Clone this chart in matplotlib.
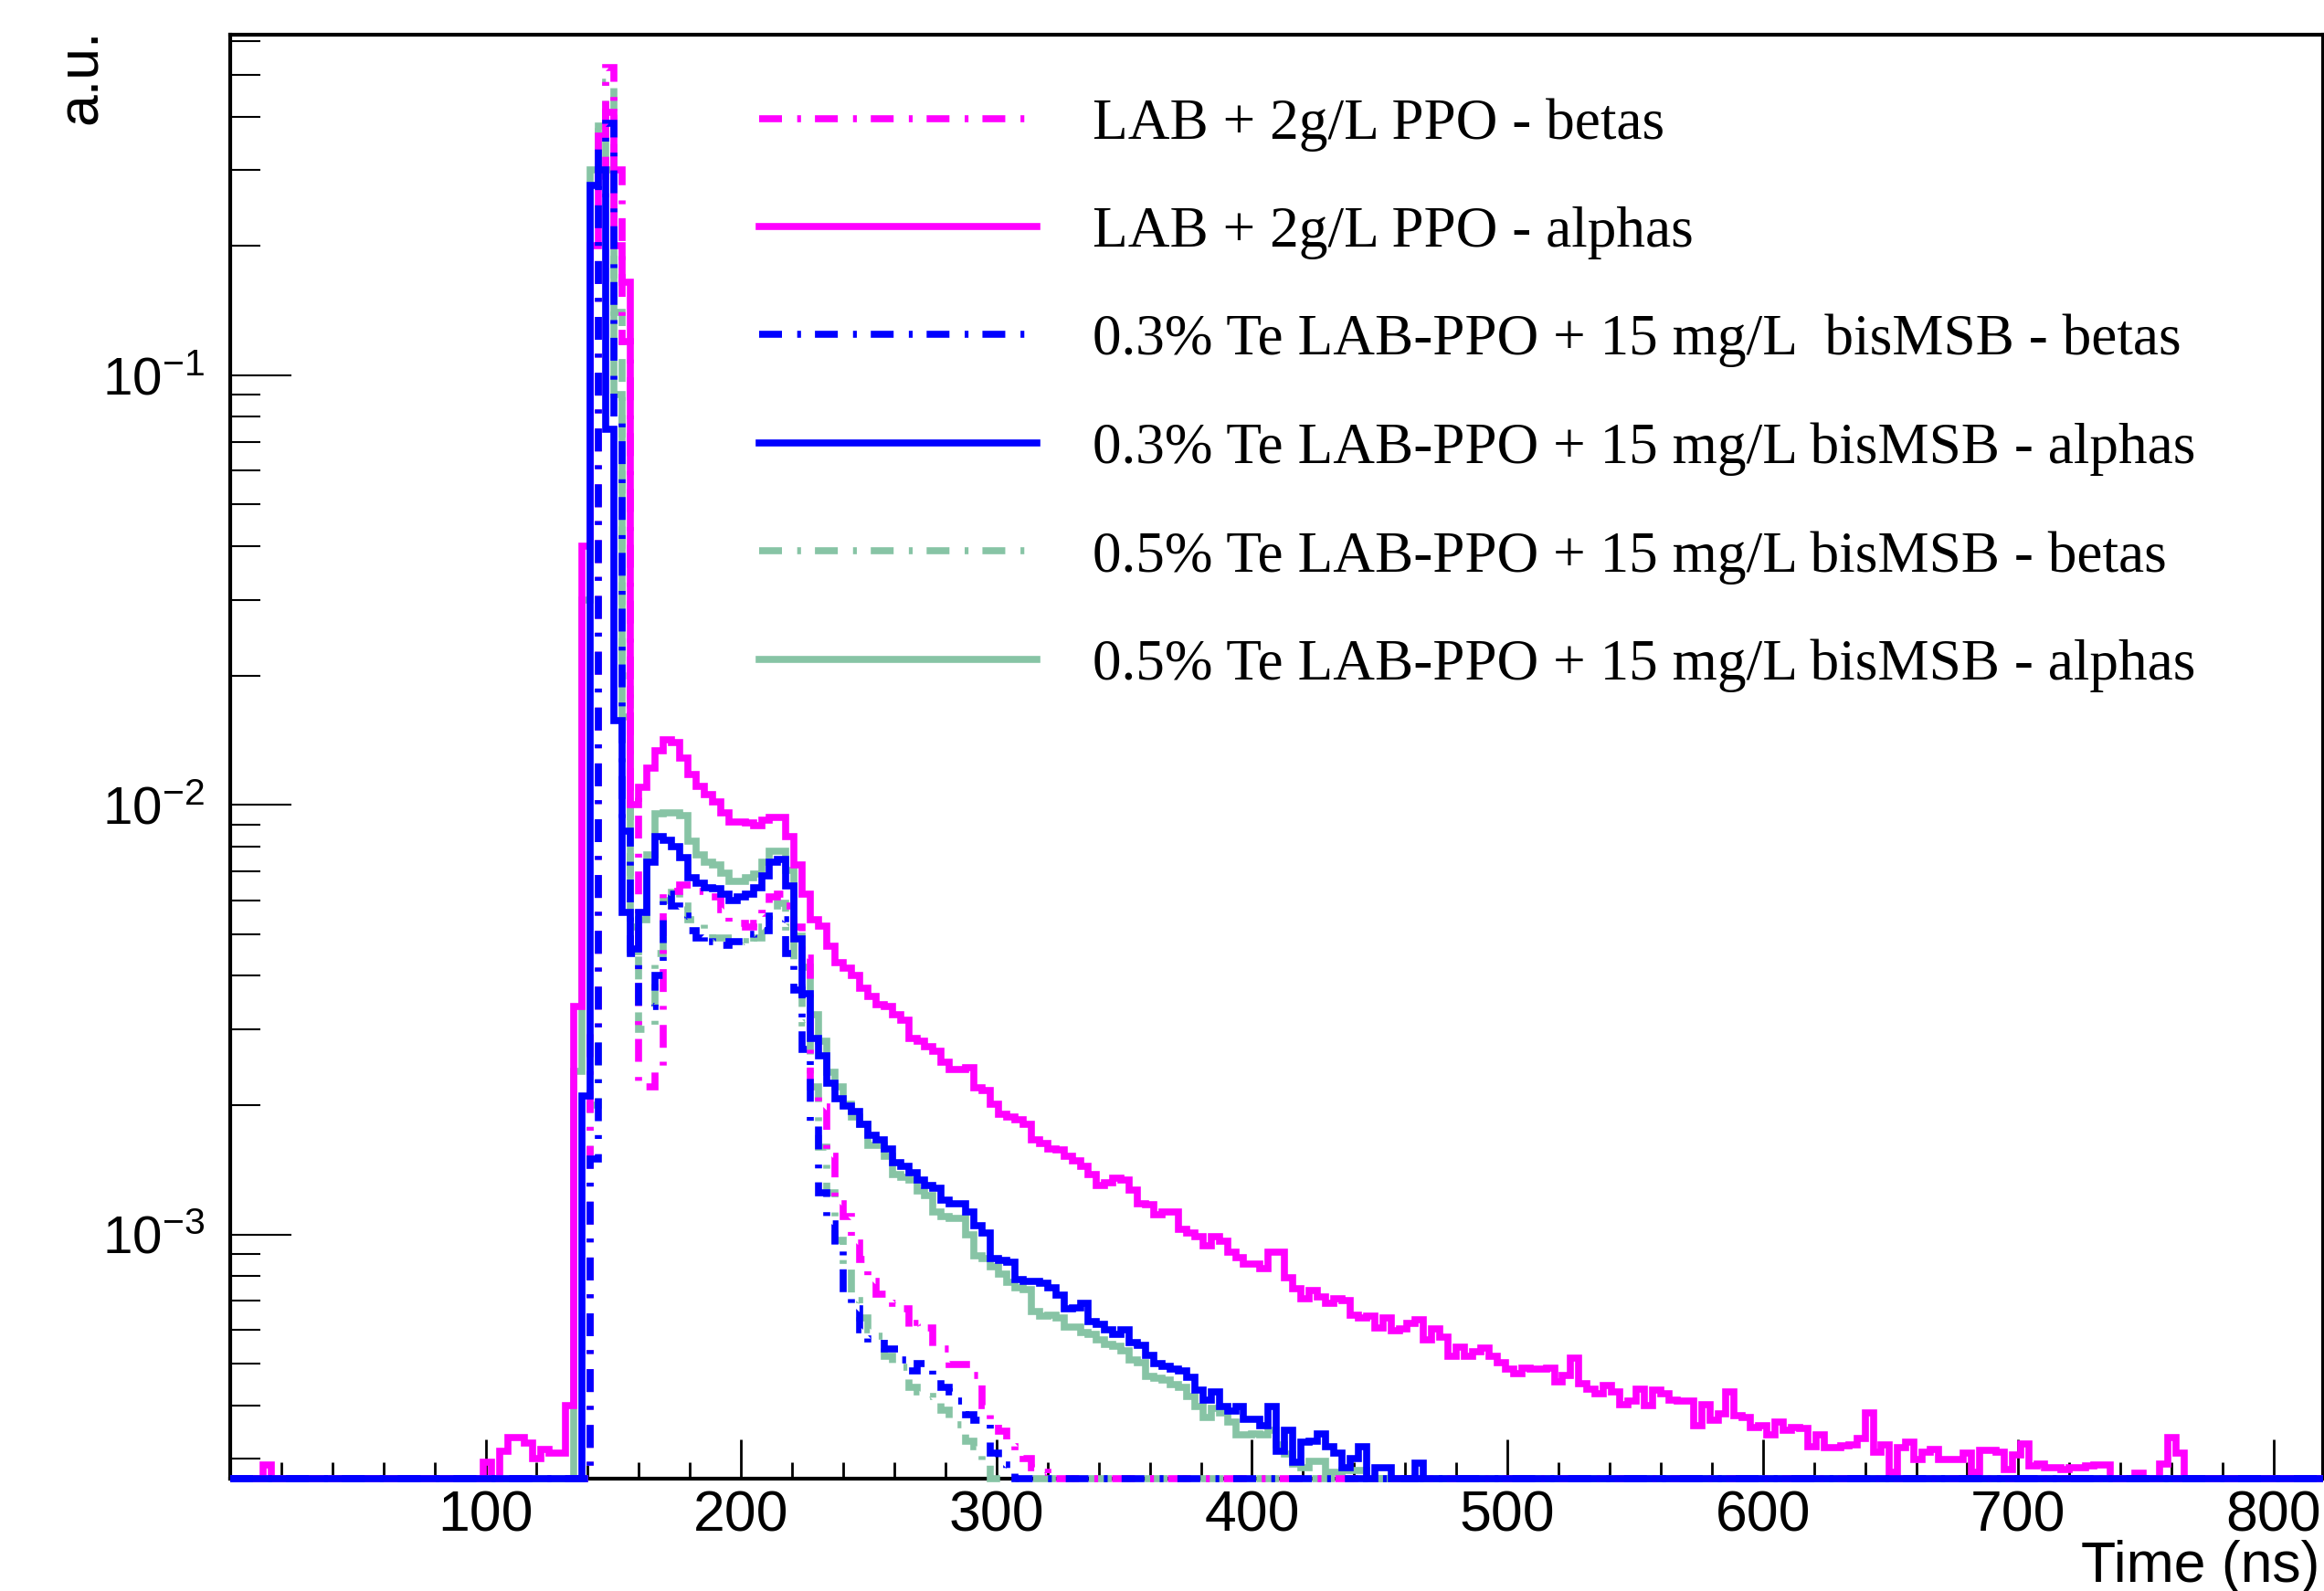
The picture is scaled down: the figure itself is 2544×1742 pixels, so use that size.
import numpy as np
import matplotlib
matplotlib.use('Agg')
import matplotlib.pyplot as plt
from matplotlib.lines import Line2D
from matplotlib.ticker import FixedLocator, MultipleLocator, LogLocator, NullFormatter

plt.rcParams['font.family'] = ['Liberation Sans', 'DejaVu Sans']
plt.rcParams['mathtext.fontset'] = 'custom'
plt.rcParams['mathtext.rm'] = 'Liberation Sans'
plt.rcParams['mathtext.it'] = 'Liberation Sans:italic'
plt.rcParams['mathtext.bf'] = 'Liberation Sans:bold'
plt.rcParams['lines.scale_dashes'] = False

# histogram binning: 256 bins of 3.2 ns
bin_w = 3.2
n_bins = 256
y_min, y_max = 2.7e-4, 0.62

# LAB + 2g/L PPO - alphas
lab_alpha_early_start = 4
lab_alpha_early = [0.00029]
lab_alpha_start = 31
lab_alpha = [
    0.000295, 0, 0.000312, 0.000337, 0.000337, 0.000327, 0.000300, 0.000316, 0.000309, 0.000309,
    0.00040, 0.0034, 0.040, 0.20, 0.36, 0.41, 0.20, 0.165,
    0.0100, 0.01098, 0.01218, 0.01333, 0.01414, 0.01394, 0.01288, 0.01177, 0.01103, 0.01058,
    0.01015, 0.00959, 0.00914, 0.00913, 0.00908, 0.00893, 0.00921, 0.00934, 0.00934, 0.00845,
    0.00724, 0.00620, 0.00539, 0.00521, 0.00468, 0.00430, 0.00416, 0.00401, 0.00374, 0.00358,
    0.00343, 0.00339, 0.00325, 0.00316, 0.00286, 0.00282, 0.00274, 0.00267, 0.00252, 0.00242,
    0.00242, 0.00245, 0.00219, 0.00216, 0.00201, 0.00190, 0.00188, 0.00185, 0.00180, 0.00166,
    0.00163, 0.00158, 0.00157, 0.00152, 0.00148, 0.00144, 0.00138, 0.00130, 0.00132, 0.00135,
    0.00134, 0.00127, 0.00118, 0.00117, 0.00111, 0.00113, 0.00113, 0.00103,
    0.00101, 0.000986, 0.000940, 0.000990, 0.000964, 0.000908, 0.000885, 0.000855, 0.000855, 0.000833,
    0.000908, 0.000908, 0.000792, 0.000746, 0.000709, 0.000740, 0.000715, 0.000691, 0.000709, 0.000702,
    0.000650, 0.000639, 0.000644, 0.000607, 0.000639, 0.000597, 0.000602, 0.000622, 0.000633, 0.000567,
    0.000602, 0.000577, 0.000520, 0.000547, 0.000520, 0.000533, 0.000544, 0.000520, 0.000502, 0.000485,
    0.000473, 0.000489, 0.000485, 0.000485, 0.000489, 0.000453, 0.000469, 0.000515, 0.000450, 0.000437,
    0.000426, 0.000445, 0.000430, 0.000402, 0.000409, 0.000437, 0.000399, 0.000434, 0.000426, 0.000412,
    0.000409, 0.000409, 0.000359, 0.000402, 0.000369, 0.000382, 0.000430, 0.000378, 0.000375, 0.000356,
    0.000359, 0.000341, 0.000366, 0.000350, 0.000356, 0.000353, 0.000321, 0.000341,
    0.000319, 0.000319, 0.000322, 0.000324, 0.000335, 0.000385, 0.000311, 0.000324, 0.00028, 0.000319,
    0.000328, 0.000299, 0.000311, 0.000316, 0.000299, 0.000299, 0.000299, 0.000310, 0.00028, 0.000314,
    0.000314, 0.000311, 0.000284, 0.000307, 0.000326, 0.000289, 0.000292, 0.000287, 0.000287, 0.000284,
    0.000287, 0.000287, 0.000289, 0.000290, 0.000290, 0, 0, 0, 0.000278, 0,
    0, 0.000292, 0.000337, 0.000310,
]

# LAB + 2g/L PPO - betas
lab_beta_start = 44
lab_beta = [
    0.003, 0.25, 0.52, 0.30, 0.12, 0.011, 0.0022, 0.0022, 0.0024, 0.0062,
    0.0063, 0.0065, 0.0065, 0.0063, 0.0061, 0.0061, 0.0057, 0.0053, 0.0053, 0.0052,
    0.0053, 0.0056, 0.0061, 0.0062, 0.0058, 0.0052, 0.0044, 0.00215, 0.00198, 0.00152,
    0.00118, 0.00110, 0.000957, 0.000875, 0.000778, 0.000725, 0.000725, 0.00069, 0.00067, 0.00060,
    0.00062, 0.000605, 0.000549, 0.00054, 0.000498, 0.000498, 0.000498, 0.00047, 0.00040, 0.000362,
    0.000349, 0.000331, 0.000321, 0.000300, 0.000286, 0.000280, 0.000278,
]

# 0.3% Te LAB-PPO + 15 mg/L bisMSB - alphas
te03_alpha_start = 43
te03_alpha = [
    0.0021, 0.277, 0.30, 0.075, 0.0157, 0.00562, 0.00461, 0.00562, 0.00734, 0.00845,
    0.00828, 0.00798, 0.00755, 0.00675, 0.00656, 0.00641, 0.00639, 0.00620, 0.00600, 0.00610,
    0.00620, 0.00642, 0.00684, 0.00734, 0.00745, 0.00648, 0.00488, 0.00363, 0.00286, 0.00260,
    0.00225, 0.00207, 0.00199, 0.00193, 0.00180, 0.00170, 0.00166, 0.00158, 0.00147, 0.00144,
    0.00139, 0.00134, 0.00130, 0.00128, 0.00120, 0.00118, 0.00118, 0.00113, 0.00105, 0.00101,
    0.000879, 0.000870, 0.000860, 0.000785, 0.000777, 0.000777, 0.000770, 0.000752, 0.000721, 0.000672,
    0.000675, 0.000690, 0.000627, 0.000619, 0.000601, 0.000585, 0.000601, 0.000560, 0.000553, 0.000522,
    0.000500, 0.000494, 0.000487, 0.000480, 0.000464, 0.000434, 0.000412, 0.000430, 0.000398, 0.000388,
    0.000398, 0.000372, 0.000372, 0.000359, 0.000398, 0.000313, 0.000350, 0.000295, 0.000328, 0.000330,
    0.000343, 0.000320, 0.000309, 0.000287, 0.000300, 0.000320, 0, 0.000287, 0.000287, 0,
    0, 0, 0.000294,
]

# 0.3% Te LAB-PPO + 15 mg/L bisMSB - betas
te03_beta_start = 44
te03_beta = [
    0.0015, 0.34, 0.385, 0.078, 0.0087, 0.0045, 0.0034, 0.0034, 0.0040, 0.0062,
    0.0058, 0.0055, 0.0051, 0.0049, 0.0050, 0.0048, 0.0047, 0.0048, 0.0048, 0.0048,
    0.0050, 0.0051, 0.0055, 0.0054, 0.0045, 0.0037, 0.0027, 0.0018, 0.00125, 0.00106,
    0.00092, 0.00072, 0.00067, 0.00060, 0.00057, 0.00057, 0.00054, 0.00054, 0.00051, 0.00048,
    0.00050, 0.00050, 0.00047, 0.00044, 0.00043, 0.00041, 0.00038, 0.00037, 0.00036, 0.00031,
    0.00029, 0.000285,
]

# 0.5% Te LAB-PPO + 15 mg/L bisMSB - alphas
te05_alpha_start = 42
te05_alpha = [
    0.0024, 0.030, 0.30, 0.38, 0.30, 0.09, 0.016, 0.00455, 0.00539, 0.00766,
    0.00953, 0.00958, 0.00958, 0.00946, 0.00822, 0.00766, 0.00734, 0.00724, 0.00694, 0.00665,
    0.00665, 0.00675, 0.00690, 0.00734, 0.00781, 0.00781, 0.00703, 0.00495, 0.00418, 0.00325,
    0.00282, 0.00238, 0.00220, 0.00201, 0.00188, 0.00180, 0.00161, 0.00161, 0.00152, 0.00138,
    0.00136, 0.00134, 0.00126, 0.00123, 0.00113, 0.00110, 0.00109, 0.00109, 0.000998, 0.000891,
    0.000880, 0.000842, 0.000807, 0.000774, 0.000752, 0.000745, 0.000662, 0.000644, 0.000650, 0.000640,
    0.000610, 0.000610, 0.000592, 0.000585, 0.000568, 0.000555, 0.000548, 0.000535, 0.000510, 0.000503,
    0.000467, 0.000463, 0.000459, 0.000447, 0.000441, 0.000420, 0.000398, 0.000375, 0.000394, 0.000384,
    0.000365, 0.000341, 0.000341, 0.000344, 0.000341, 0.000350, 0.000324, 0.000308, 0.000292, 0.000287,
    0.000297, 0.000297, 0.000280, 0.000280, 0.000282, 0.000282, 0.000282,
]

# 0.5% Te LAB-PPO + 15 mg/L bisMSB - betas
te05_beta_start = 44
te05_beta = [
    0.002, 0.37, 0.48, 0.14, 0.02, 0.0052, 0.0030, 0.0030, 0.0045, 0.0060,
    0.0064, 0.0058, 0.0054, 0.0054, 0.0051, 0.0049, 0.0049, 0.0049, 0.0048, 0.0047,
    0.0049, 0.0052, 0.0056, 0.0059, 0.0052, 0.0042, 0.0031, 0.0022, 0.0016, 0.00125,
    0.00097, 0.00083, 0.00070, 0.00064, 0.00060, 0.00058, 0.00052, 0.00050, 0.00049, 0.00044,
    0.00043, 0.00042, 0.00041, 0.00039, 0.00036, 0.00036, 0.00033, 0.00032, 0.00029,
]

labels = [
    "LAB + 2g/L PPO - betas",
    "LAB + 2g/L PPO - alphas",
    "0.3% Te LAB-PPO + 15 mg/L  bisMSB - betas",
    "0.3% Te LAB-PPO + 15 mg/L bisMSB - alphas",
    "0.5% Te LAB-PPO + 15 mg/L bisMSB - betas",
    "0.5% Te LAB-PPO + 15 mg/L bisMSB - alphas",
]

x_ticks = [100, 200, 300, 400, 500, 600, 700, 800]

magenta = '#FF00FF'
blue = '#0000FF'
green = '#87C4A5'
dashdot = (0, (18, 12, 3, 11))
lw = 5.5


def full_hist(start, vals):
    h = np.zeros(n_bins)
    h[start:start + len(vals)] = vals
    return h


edges = np.arange(n_bins + 1) * bin_w

h_lab_a = full_hist(lab_alpha_start, lab_alpha) + full_hist(lab_alpha_early_start, lab_alpha_early)
h_lab_b = full_hist(lab_beta_start, lab_beta)
h_03_a = full_hist(te03_alpha_start, te03_alpha)
h_03_b = full_hist(te03_beta_start, te03_beta)
h_05_a = full_hist(te05_alpha_start, te05_alpha)
h_05_b = full_hist(te05_beta_start, te05_beta)

fig = plt.figure(figsize=(25.44, 17.42), dpi=100)
ax = fig.add_axes([0.099, 0.0706, 0.9005, 0.9075])

# draw order (last on top)
series = [
    (h_05_b, green, dashdot),
    (h_05_a, green, '-'),
    (h_lab_b, magenta, dashdot),
    (h_lab_a, magenta, '-'),
    (h_03_b, blue, dashdot),
    (h_03_a, blue, '-'),
]
for h, c, ls in series:
    h = np.where(h > 0, h, y_min)  # empty bins sit on the bottom edge
    p = ax.stairs(h, edges, baseline=None, color=c, lw=lw, linestyle=ls,
                  clip_on=False, zorder=3)
    p.set_joinstyle('miter')

ax.set_yscale('log')
ax.set_xlim(0, n_bins * bin_w)
ax.set_ylim(y_min, y_max)

ax.xaxis.set_major_locator(FixedLocator(x_ticks))
ax.set_xticklabels([str(t) for t in x_ticks])
ax.xaxis.set_minor_locator(MultipleLocator(20))
ax.set_yticks([1e-3, 1e-2, 1e-1])
ax.set_yticklabels([r'$10^{-3}$', r'$10^{-2}$', r'$10^{-1}$'])
ax.yaxis.set_minor_locator(LogLocator(base=10, subs=np.arange(2, 10), numticks=50))
ax.yaxis.set_minor_formatter(NullFormatter())

ax.tick_params(axis='x', which='major', direction='in', length=31, width=2, labelsize=45, pad=8)
ax.tick_params(axis='x', which='minor', direction='in', length=13, width=2)
ax.tick_params(axis='y', which='major', direction='in', length=48, width=1.5, labelsize=42, pad=20)
ax.tick_params(axis='y', which='minor', direction='in', length=24, width=1.5)
for s in ax.spines.values():
    s.set_linewidth(3)

handles = [
    Line2D([], [], color=magenta, lw=lw, linestyle=dashdot),
    Line2D([], [], color=magenta, lw=lw),
    Line2D([], [], color=blue, lw=lw, linestyle=dashdot),
    Line2D([], [], color=blue, lw=lw),
    Line2D([], [], color=green, lw=lw, linestyle=dashdot),
    Line2D([], [], color=green, lw=lw),
]
ax.legend(handles, labels, loc='upper left', bbox_to_anchor=(0.3266, 0.9385),
          bbox_transform=fig.transFigure, frameon=False,
          prop={'family': 'Liberation Serif', 'size': 45.5},
          handlelength=4.82, handletextpad=0.96, labelspacing=0.95,
          borderpad=0, borderaxespad=0)

fig.text(0.035, 0.982, 'a.u.', rotation=90, ha='center', va='top', fontsize=45)
fig.text(0.998, 0.006, 'Time (ns)', ha='right', va='baseline', fontsize=45)

fig.savefig('out.png', dpi=100)
